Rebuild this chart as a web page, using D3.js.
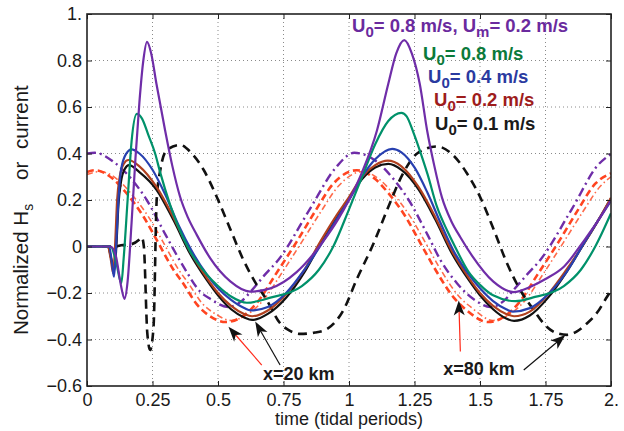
<!DOCTYPE html>
<html><head><meta charset="utf-8">
<script src="https://cdn.jsdelivr.net/npm/d3@7"></script>
<style>
html,body{margin:0;padding:0;background:#fff;}
svg{display:block;font-family:"Liberation Sans",Arial,Helvetica,sans-serif;}
</style></head><body>
<svg id="chart" width="624" height="431"></svg>
<script>
// ---------- axis ticks ----------
const xTicks = [0, 0.25, 0.5, 0.75, 1, 1.25, 1.5, 1.75, 2];
const xTickLabels = ["0", "0.25", "0.5", "0.75", "1", "1.25", "1.5", "1.75", "2."];
const yTicks = [-0.6, -0.4, -0.2, 0, 0.2, 0.4, 0.6, 0.8, 1];
const yTickLabels = ["\u22120.6", "\u22120.4", "\u22120.2", "0", "0.2", "0.4", "0.6", "0.8", "1."];

// ---------- series: [time (tidal periods), normalized value] ----------
const hsU01 = [[0,0],[0.08,0],[0.092,-0.05],[0.105,-0.1],[0.112,0.0],[0.12,0.18],[0.13,0.28],[0.145,0.335],[0.16,0.35],[0.2,0.32],[0.266,0.243],[0.33,0.114],[0.393,-0.03],[0.457,-0.144],[0.5,-0.21],[0.55,-0.27],[0.6,-0.305],[0.63,-0.316],[0.69,-0.29],[0.76,-0.22],[0.83,-0.11],[0.89,0.01],[0.95,0.12],[1.0,0.205],[1.05,0.29],[1.1,0.34],[1.15,0.355],[1.2,0.33],[1.266,0.245],[1.33,0.115],[1.393,-0.03],[1.457,-0.144],[1.5,-0.21],[1.55,-0.27],[1.6,-0.31],[1.63,-0.32],[1.69,-0.297],[1.76,-0.22],[1.83,-0.11],[1.89,0.0],[1.95,0.11],[2.0,0.207]];
const hsU02 = [[0,0],[0.08,0],[0.09,-0.05],[0.1,-0.115],[0.107,0.0],[0.115,0.2],[0.125,0.3],[0.14,0.355],[0.158,0.372],[0.2,0.345],[0.266,0.255],[0.33,0.125],[0.393,-0.02],[0.457,-0.135],[0.5,-0.2],[0.55,-0.255],[0.6,-0.29],[0.63,-0.3],[0.69,-0.275],[0.76,-0.205],[0.83,-0.1],[0.89,0.02],[0.95,0.13],[1.0,0.212],[1.05,0.3],[1.1,0.35],[1.148,0.369],[1.2,0.345],[1.266,0.255],[1.33,0.125],[1.393,-0.02],[1.457,-0.135],[1.5,-0.2],[1.55,-0.255],[1.6,-0.29],[1.63,-0.3],[1.69,-0.28],[1.76,-0.205],[1.83,-0.1],[1.89,0.0],[1.95,0.11],[2.0,0.21]];
const hsU04 = [[0,0],[0.085,0],[0.095,-0.07],[0.103,-0.13],[0.11,-0.02],[0.12,0.2],[0.13,0.33],[0.15,0.4],[0.17,0.418],[0.2,0.4],[0.25,0.33],[0.3,0.22],[0.35,0.09],[0.4,-0.02],[0.457,-0.12],[0.5,-0.18],[0.55,-0.23],[0.6,-0.265],[0.625,-0.275],[0.69,-0.26],[0.76,-0.2],[0.83,-0.1],[0.9,0.02],[0.96,0.13],[1.0,0.2],[1.05,0.3],[1.1,0.375],[1.165,0.42],[1.2,0.405],[1.25,0.34],[1.3,0.23],[1.35,0.1],[1.4,-0.02],[1.457,-0.12],[1.5,-0.18],[1.55,-0.235],[1.6,-0.27],[1.625,-0.28],[1.69,-0.265],[1.76,-0.205],[1.83,-0.11],[1.9,0.02],[1.95,0.11],[2.0,0.197]];
const hsU08 = [[0,0],[0.09,0],[0.11,-0.06],[0.131,-0.158],[0.14,-0.05],[0.155,0.2],[0.17,0.45],[0.19,0.57],[0.21,0.55],[0.234,0.48],[0.26,0.4],[0.279,0.32],[0.317,0.18],[0.343,0.1],[0.393,-0.02],[0.457,-0.12],[0.5,-0.17],[0.55,-0.215],[0.61,-0.242],[0.7,-0.22],[0.82,-0.17],[0.885,-0.1],[0.94,0.0],[1.0,0.16],[1.05,0.3],[1.1,0.44],[1.15,0.54],[1.2,0.575],[1.22,0.56],[1.246,0.49],[1.28,0.38],[1.3,0.31],[1.336,0.17],[1.374,0.07],[1.4,0.01],[1.457,-0.11],[1.5,-0.165],[1.55,-0.21],[1.635,-0.235],[1.7,-0.22],[1.82,-0.17],[1.885,-0.1],[1.94,0.0],[2.0,0.143]];
const hsU08Um02 = [[0,0],[0.09,0],[0.11,-0.04],[0.13,-0.17],[0.143,-0.225],[0.155,-0.15],[0.17,0.1],[0.185,0.38],[0.2,0.62],[0.215,0.8],[0.229,0.88],[0.245,0.83],[0.265,0.7],[0.298,0.5],[0.325,0.35],[0.355,0.215],[0.385,0.125],[0.419,0.05],[0.47,-0.05],[0.547,-0.15],[0.623,-0.194],[0.7,-0.18],[0.8,-0.11],[0.9,0.02],[0.96,0.12],[1.0,0.2],[1.05,0.32],[1.107,0.5],[1.15,0.7],[1.18,0.83],[1.211,0.888],[1.24,0.83],[1.27,0.7],[1.298,0.5],[1.325,0.35],[1.355,0.21],[1.39,0.11],[1.425,0.04],[1.47,-0.04],[1.55,-0.15],[1.628,-0.196],[1.693,-0.173],[1.75,-0.14],[1.82,-0.087],[1.9,0.03],[1.95,0.11],[2.0,0.2]];
const currentBlack = [[0,0],[0.11,0],[0.13,0.005],[0.17,0.01],[0.2,0.03],[0.209,0.04],[0.217,0.0],[0.23,-0.37],[0.241,-0.445],[0.254,-0.345],[0.266,0.2],[0.28,0.33],[0.305,0.415],[0.355,0.437],[0.4,0.4],[0.445,0.33],[0.495,0.214],[0.545,0.08],[0.597,-0.058],[0.64,-0.15],[0.686,-0.23],[0.737,-0.33],[0.77,-0.36],[0.814,-0.376],[0.87,-0.37],[0.916,-0.355],[0.979,-0.273],[1.03,-0.14],[1.094,0.014],[1.15,0.17],[1.207,0.316],[1.26,0.4],[1.336,0.43],[1.4,0.39],[1.45,0.315],[1.5,0.214],[1.55,0.08],[1.603,-0.072],[1.65,-0.18],[1.705,-0.273],[1.75,-0.34],[1.794,-0.373],[1.832,-0.38],[1.87,-0.365],[1.909,-0.33],[1.95,-0.28],[1.985,-0.216],[2.0,-0.19]];
const currentPurple = [[0,0.4],[0.03,0.403],[0.1,0.365],[0.17,0.29],[0.228,0.2],[0.3,0.05],[0.37,-0.09],[0.432,-0.194],[0.47,-0.225],[0.54,-0.26],[0.59,-0.235],[0.628,-0.19],[0.68,-0.12],[0.73,-0.058],[0.85,0.16],[0.95,0.34],[1.02,0.403],[1.1,0.37],[1.17,0.29],[1.228,0.2],[1.3,0.05],[1.349,-0.058],[1.412,-0.158],[1.489,-0.237],[1.54,-0.26],[1.59,-0.235],[1.628,-0.187],[1.68,-0.12],[1.73,-0.058],[1.85,0.16],[1.95,0.35],[2.0,0.398]];
const currentOrangeA = [[0,0.32],[0.03,0.328],[0.1,0.29],[0.15,0.23],[0.216,0.128],[0.27,0.02],[0.33,-0.1],[0.368,-0.16],[0.42,-0.25],[0.47,-0.3],[0.53,-0.325],[0.58,-0.31],[0.65,-0.24],[0.72,-0.12],[0.8,0.02],[0.87,0.15],[0.94,0.27],[1.03,0.328],[1.1,0.29],[1.15,0.23],[1.216,0.128],[1.27,0.02],[1.33,-0.1],[1.4,-0.22],[1.45,-0.275],[1.53,-0.325],[1.58,-0.31],[1.65,-0.24],[1.72,-0.12],[1.8,0.02],[1.87,0.15],[1.94,0.27],[2.0,0.315]];
const currentOrangeB = [[0,0.31],[0.05,0.322],[0.12,0.285],[0.17,0.225],[0.236,0.125],[0.29,0.02],[0.35,-0.1],[0.388,-0.16],[0.44,-0.245],[0.49,-0.29],[0.55,-0.318],[0.6,-0.3],[0.67,-0.235],[0.74,-0.12],[0.82,0.02],[0.89,0.145],[0.96,0.26],[1.05,0.322],[1.12,0.285],[1.17,0.225],[1.236,0.125],[1.29,0.02],[1.35,-0.1],[1.42,-0.215],[1.47,-0.265],[1.55,-0.318],[1.6,-0.3],[1.67,-0.235],[1.74,-0.12],[1.82,0.02],[1.89,0.145],[1.96,0.26],[2.0,0.3]];

// ---------- annotations (data units): [tail, tip] ----------
const arrow20Red = [[0.667,-0.51],[0.54,-0.345]];
const arrow20Black = [[0.737,-0.51],[0.642,-0.323]];
const arrow80Red = [[1.425,-0.452],[1.419,-0.232]];
const arrow80Black = [[1.667,-0.531],[1.826,-0.381]];
const label20 = {text:"x=20 km", at:[0.672,-0.574]};
const label80 = {text:"x=80 km", at:[1.36,-0.553]};

// ---------- legend texts ----------
const legendTexts = [
  {parts:[["U"],["0",1],["= 0.8 m/s, U"],["m",1],["= 0.2 m/s"]], color:"#6a2a9e", x:352, y:32},
  {parts:[["U"],["0",1],["= 0.8 m/s"]], color:"#0b7a3a", x:423, y:59.5},
  {parts:[["U"],["0",1],["= 0.4 m/s"]], color:"#2a3aa0", x:428, y:83},
  {parts:[["U"],["0",1],["= 0.2 m/s"]], color:"#9e1c1c", x:434, y:106},
  {parts:[["U"],["0",1],["= 0.1 m/s"]], color:"#1a1a1a", x:435, y:129.5}
];

// ---------- drawing ----------
const svg = d3.select("#chart");
const L = 87, R = 611, T = 14, B = 386;
const x = d3.scaleLinear().domain([0, 2]).range([L, R]);
const y = d3.scaleLinear().domain([-0.6, 1]).range([B, T]);

svg.append("defs").append("clipPath").attr("id","clip")
  .append("rect").attr("x",L).attr("y",T).attr("width",R-L).attr("height",B-T);

// grid
const grid = svg.append("g").attr("stroke","#8a8a8a").attr("stroke-width",1).attr("stroke-dasharray","1,3");
grid.selectAll(".gx").data(xTicks.slice(1,-1)).join("line")
  .attr("x1",d=>x(d)).attr("x2",d=>x(d)).attr("y1",T).attr("y2",B);
grid.selectAll(".gy").data(yTicks.slice(1,-1)).join("line")
  .attr("y1",d=>y(d)).attr("y2",d=>y(d)).attr("x1",L).attr("x2",R);

// series
const series = [
  {data:currentOrangeB, color:"#ff6a4a", width:1.6, dash:"6,3,1.5,3"},
  {data:currentOrangeA, color:"#ff4420", width:2.6, dash:"7,4"},
  {data:currentPurple, color:"#6f2da8", width:2.4, dash:"9,4,2,4"},
  {data:currentBlack, color:"#111111", width:2.6, dash:"9,6"},
  {data:hsU01, color:"#111111", width:2.2},
  {data:hsU02, color:"#b0401f", width:2.2},
  {data:hsU04, color:"#2840b0", width:2.2},
  {data:hsU08, color:"#00916a", width:2.2},
  {data:hsU08Um02, color:"#6f2da8", width:2.2}
];
const line = d3.line().x(d=>x(d[0])).y(d=>y(d[1])).curve(d3.curveMonotoneX);
const plot = svg.append("g").attr("clip-path","url(#clip)");
series.forEach(s=>{
  plot.append("path").attr("d",line(s.data)).attr("fill","none")
    .attr("stroke",s.color).attr("stroke-width",s.width)
    .attr("stroke-dasharray",s.dash||null).attr("stroke-linejoin","round");
});

// axes (ticks inward on all sides)
const fs = "18px";
const axB = svg.append("g").attr("transform",`translate(0,${B})`)
  .call(d3.axisBottom(x).tickValues(xTicks).tickFormat((d,i)=>xTickLabels[i]).tickSizeInner(-5).tickSizeOuter(0).tickPadding(7));
const axT = svg.append("g").attr("transform",`translate(0,${T})`)
  .call(d3.axisTop(x).tickValues(xTicks).tickFormat("").tickSizeInner(-5).tickSizeOuter(0));
const axL = svg.append("g").attr("transform",`translate(${L},0)`)
  .call(d3.axisLeft(y).tickValues(yTicks).tickFormat((d,i)=>yTickLabels[i]).tickSizeInner(-5).tickSizeOuter(0).tickPadding(5));
const axR = svg.append("g").attr("transform",`translate(${R},0)`)
  .call(d3.axisRight(y).tickValues(yTicks).tickFormat("").tickSizeInner(-5).tickSizeOuter(0));
[axB,axT,axL,axR].forEach(a=>{
  a.select(".domain").remove();
  a.selectAll(".tick line").attr("stroke","#222").attr("stroke-width",1);
  a.selectAll("text").attr("font-size",fs).attr("fill","#1a1a1a").attr("font-family","Liberation Sans, Arial, sans-serif");
});
svg.append("rect").attr("x",L).attr("y",T).attr("width",R-L).attr("height",B-T)
  .attr("fill","none").attr("stroke","#222").attr("stroke-width",1.6);

// axis labels
svg.append("text").attr("x",(L+R)/2).attr("y",425).attr("text-anchor","middle")
  .attr("font-size",fs).attr("fill","#1a1a1a").text("time (tidal periods)");
const yl = svg.append("text").attr("transform","rotate(-90)").attr("font-size","20.5px").attr("fill","#1a1a1a");
yl.append("tspan").attr("x",-335).attr("y",28).text("Normalized H");
yl.append("tspan").attr("dy",5).attr("font-size","14px").text("s");
yl.append("tspan").attr("x",-180).attr("y",28).text("or");
yl.append("tspan").attr("x",-149).attr("y",28).text("current");

// legend texts
legendTexts.forEach(lt=>{
  const t = svg.append("text").attr("x",lt.x).attr("y",lt.y).attr("fill",lt.color)
    .attr("font-size","18.5px").attr("font-weight","bold");
  let down = false;
  lt.parts.forEach(p=>{
    const sub = !!p[1];
    const ts = t.append("tspan").text(p[0]);
    if (sub && !down){ ts.attr("dy",5).attr("font-size","15px"); down = true; }
    else if (!sub && down){ ts.attr("dy",-5); down = false; }
  });
});

// arrows
function arrow(pts, color){
  const [x0,y0] = [x(pts[0][0]), y(pts[0][1])];
  const [x1,y1] = [x(pts[1][0]), y(pts[1][1])];
  const ang = Math.atan2(y1-y0, x1-x0);
  const back = 10;
  svg.append("line").attr("x1",x0).attr("y1",y0)
    .attr("x2",x1-back*Math.cos(ang)).attr("y2",y1-back*Math.sin(ang))
    .attr("stroke",color).attr("stroke-width",1.2);
  svg.append("path").attr("d","M0,0L-15,-5.5L-11,0L-15,5.5Z").attr("fill","#111")
    .attr("transform",`translate(${x1},${y1}) rotate(${ang*180/Math.PI})`);
}
arrow(arrow20Red,"#ff2a1a");
arrow(arrow20Black,"#111");
arrow(arrow80Red,"#ff2a1a");
arrow(arrow80Black,"#111");
[label20,label80].forEach(l=>{
  svg.append("text").attr("x",x(l.at[0])).attr("y",y(l.at[1])).attr("font-size","18px")
    .attr("font-weight","bold").attr("fill","#1a1a1a").text(l.text);
});
</script>
</body></html>
